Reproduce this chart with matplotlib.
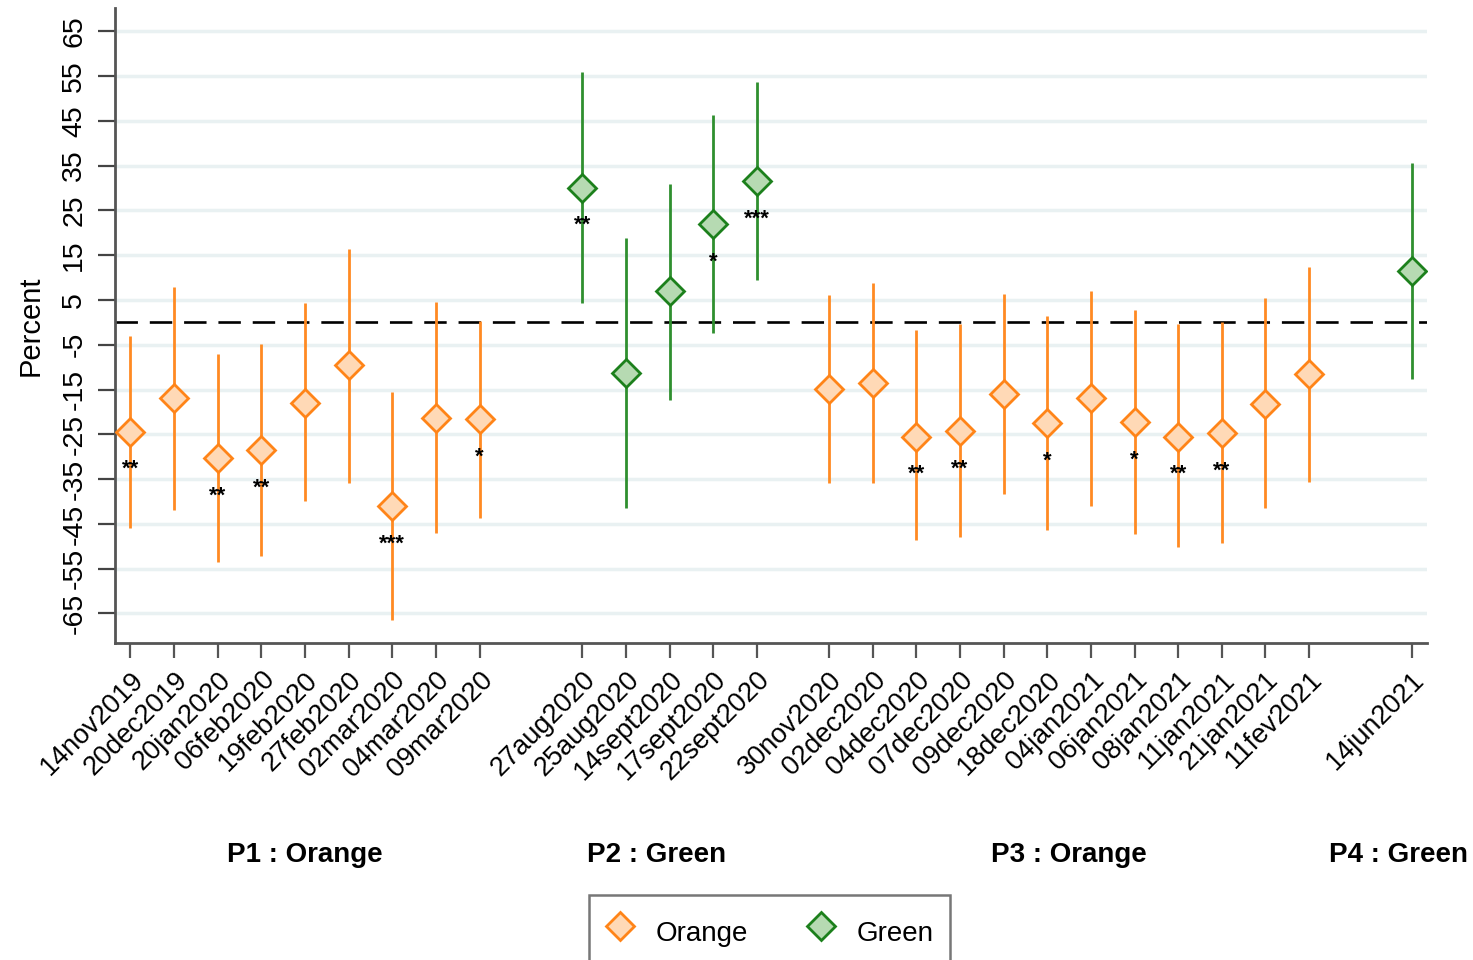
import matplotlib
matplotlib.use('Agg')
import matplotlib.pyplot as plt
from matplotlib.lines import Line2D
from matplotlib.transforms import blended_transform_factory
import numpy as np

plt.rcParams['font.family'] = ['Liberation Sans', 'DejaVu Sans']

# Dates of each survey wave
dates = ['14nov2019', '20dec2019', '20jan2020', '06feb2020', '19feb2020', '27feb2020',
         '02mar2020', '04mar2020', '09mar2020',
         '27aug2020', '25aug2020', '14sept2020', '17sept2020', '22sept2020',
         '30nov2020', '02dec2020', '04dec2020', '07dec2020', '09dec2020', '18dec2020',
         '04jan2021', '06jan2021', '08jan2021', '11jan2021', '21jan2021', '11fev2021',
         '14jun2021']

# Point estimates and 95% confidence intervals (percent)
estimate = [-24.4, -16.9, -30.3, -28.5, -18.1, -9.5, -41.0, -21.4, -21.6,
            30.1, -11.2, 6.9, 22.0, 31.6,
            -14.9, -13.5, -25.5, -24.2, -16.0, -22.5, -16.9, -22.3, -25.5, -24.8, -18.3, -11.5,
            11.5]
ci_low = [-46.0, -41.9, -53.4, -52.1, -40.0, -35.9, -66.4, -47.1, -43.7,
          4.4, -41.4, -17.3, -2.4, 9.5,
          -35.9, -35.9, -48.7, -48.0, -38.3, -46.3, -41.0, -47.2, -50.2, -49.3, -41.5, -35.6,
          -12.7]
ci_high = [-3.0, 7.9, -7.1, -4.9, 4.3, 16.3, -15.5, 4.6, 0.2,
           56.0, 18.8, 31.0, 46.4, 53.7,
           6.1, 8.7, -1.7, -0.4, 6.3, 1.4, 6.9, 2.8, -0.4, 0.0, 5.4, 12.3,
           35.6]
stars = ['**', '', '**', '**', '', '', '***', '', '*',
         '**', '', '', '*', '***',
         '', '', '**', '**', '', '*', '', '*', '**', '**', '', '',
         '']

# Periods: name, colour code and number of waves
period_names = ['P1 : Orange', 'P2 : Green', 'P3 : Orange', 'P4 : Green']
period_colour = ['Orange', 'Green', 'Orange', 'Green']
period_sizes = [9, 5, 12, 1]

# Layout: where each period starts on the x axis, and small nudges of its name
period_start = [0, 10.35, 16.0, 29.35]
name_shift = [0, -0.3, 0, -0.3]

styles = {
    'Orange': {'line': '#ff8a22', 'edge': '#ff8418', 'face': '#ffd9b6'},
    'Green': {'line': '#2f8f2f', 'edge': '#1c801c', 'face': '#b6dab2'},
}

fig = plt.figure(figsize=(14.73, 9.6), dpi=100)
ax = fig.add_axes([0.0781, 0.3302, 0.8907, 0.6615])

xpos = []
xcol = []
centers = []
for start, n, col in zip(period_start, period_sizes, period_colour):
    pts = [start + i for i in range(n)]
    xpos += pts
    xcol += [col] * n
    centers.append(np.mean(pts))

# Zero reference line
ax.axhline(0, color='black', lw=1.9, dashes=(8.5, 4.5), zorder=2)

# Confidence intervals and point estimates
for x, est, lo, hi, col, s in zip(xpos, estimate, ci_low, ci_high, xcol, stars):
    st = styles[col]
    ax.plot([x, x], [lo, hi], color=st['line'], lw=2.0, zorder=3, solid_capstyle='butt')
    ax.plot(x, est, marker='D', markersize=14, markerfacecolor=st['face'],
            markeredgecolor=st['edge'], markeredgewidth=2, zorder=4)
    if s:
        ax.annotate(s, (x, est), xytext=(0, -38), textcoords='offset pixels',
                    ha='center', va='center', fontsize=16, fontweight='bold', zorder=5)

# Axes
ax.set_xlim(-0.35, 29.7)
ax.set_ylim(-71.6, 70.2)
yt = np.arange(-65, 66, 10)
ax.set_yticks(yt)
ax.set_yticklabels([str(v) for v in yt], rotation=90, va='center', fontsize=20.5)
ax.set_xticks(xpos)
ax.set_xticklabels(dates, rotation=45, ha='right', rotation_mode='anchor', fontsize=19.5)
ax.grid(axis='y', color='#e9f1f2', lw=2.5, zorder=0)
ax.set_axisbelow(True)
ax.tick_params(axis='y', length=12, width=1.6, color='#444444', pad=8)
ax.tick_params(axis='x', length=11, width=1.6, color='#555555', pad=6)
ax.set_ylabel('Percent', fontsize=21, labelpad=12)

for side in ['top', 'right']:
    ax.spines[side].set_visible(False)
for side in ['left', 'bottom']:
    ax.spines[side].set_color('#555555')
    ax.spines[side].set_linewidth(2)

# Period names under the dates
tr = blended_transform_factory(ax.transData, fig.transFigure)
for c, dx, name in zip(centers, name_shift, period_names):
    ax.text(c + dx, 0.109, name, transform=tr, ha='center', va='center',
            fontsize=20, fontweight='bold', clip_on=False)

# Legend (runs off the bottom edge, as in the original export)
handles = []
for col in ['Orange', 'Green']:
    st = styles[col]
    handles.append(Line2D([], [], linestyle='none', marker='D', markersize=14,
                          markerfacecolor=st['face'], markeredgecolor=st['edge'],
                          markeredgewidth=2, label=col))
leg = fig.legend(handles=handles, loc='upper center', bbox_to_anchor=(0.5227, 0.068),
                 borderaxespad=0, ncol=2, fontsize=20, frameon=True, fancybox=False,
                 borderpad=0.6, handlelength=1.0, handleheight=1.9, handletextpad=0.8,
                 columnspacing=2.1)
leg.get_frame().set_edgecolor('#555555')
leg.get_frame().set_linewidth(1.8)

fig.savefig('out.png', dpi=100)
